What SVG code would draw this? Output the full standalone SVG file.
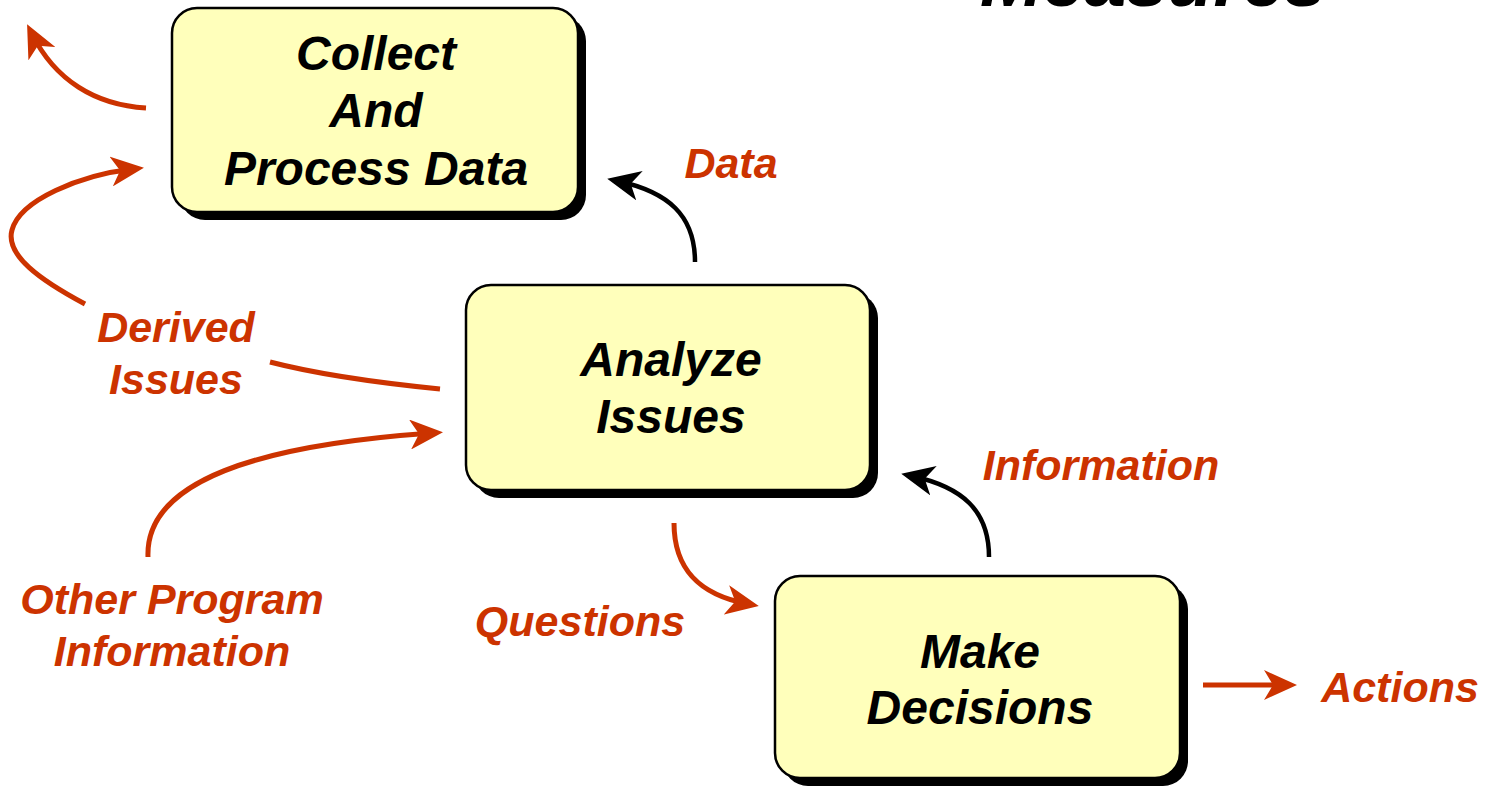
<svg xmlns="http://www.w3.org/2000/svg" width="1491" height="787" viewBox="0 0 1491 787">
<style>
.box{fill:#FFFFBB;stroke:#000;stroke-width:2.5}
.shadow{fill:#000}
.nt{font-family:"Liberation Sans",Arial,sans-serif;font-weight:bold;font-style:italic;font-size:48px;fill:#000;text-anchor:middle}
.lt{font-family:"Liberation Sans",Arial,sans-serif;font-weight:bold;font-style:italic;font-size:43px;fill:#CC3300;text-anchor:middle}
.title{font-family:"Liberation Sans",Arial,sans-serif;font-weight:bold;font-style:italic;font-size:75px;fill:#000}
.red{fill:none;stroke:#CC3300;stroke-width:5}
.blk{fill:none;stroke:#000;stroke-width:4.5}
</style>
<defs>
<marker id="ar" viewBox="0 0 33 30" markerUnits="userSpaceOnUse" markerWidth="33" markerHeight="30" refX="22" refY="15" orient="auto">
<path d="M0,0 L33,15 L0,30 L9,15 z" fill="#CC3300"/>
</marker>
<marker id="ab" viewBox="0 0 33 30" markerUnits="userSpaceOnUse" markerWidth="33" markerHeight="30" refX="22" refY="15" orient="auto">
<path d="M0,0 L33,15 L0,30 L9,15 z" fill="#000"/>
</marker>
</defs>
<rect width="1491" height="787" fill="#fff"/>
<text class="title" x="980" y="6">Measures</text>
<g id="collect">
<rect class="shadow" x="180" y="16" width="406" height="204" rx="25"/>
<rect class="box" x="172" y="8" width="406" height="204" rx="25"/>
<text class="nt" x="376" y="70">Collect</text>
<text class="nt" x="376" y="127">And</text>
<text class="nt" x="376" y="185">Process Data</text>
</g>
<g id="analyze">
<rect class="shadow" x="474" y="293" width="404" height="205" rx="25"/>
<rect class="box" x="466" y="285" width="404" height="205" rx="25"/>
<text class="nt" x="671" y="376">Analyze</text>
<text class="nt" x="671" y="433">Issues</text>
</g>
<g id="decide">
<rect class="shadow" x="783" y="584" width="405" height="202" rx="25"/>
<rect class="box" x="775" y="576" width="405" height="202" rx="25"/>
<text class="nt" x="980" y="668">Make</text>
<text class="nt" x="980" y="724">Decisions</text>
</g>
<g id="connectors">
<path class="red" d="M146,108 C95,105 55,80 32,34" marker-end="url(#ar)"/>
<path class="red" d="M440,389 C380,383 320,375 270,362"/>
<path class="red" d="M85,304 C40,280 5,255 12,230 C20,200 80,175 133,169" marker-end="url(#ar)"/>
<path class="red" d="M148,557 C145,480 260,445 432,433" marker-end="url(#ar)"/>
<path class="blk" d="M695,262 C695,215 668,192 618,181" marker-end="url(#ab)"/>
<path class="blk" d="M989,557 C989,510 962,487 912,476" marker-end="url(#ab)"/>
<path class="red" d="M674,523 C674,570 700,595 748,604" marker-end="url(#ar)"/>
<path class="red" d="M1203,685 L1286,685" marker-end="url(#ar)"/>
</g>
<g id="labels">
<text class="lt" x="731" y="178">Data</text>
<text class="lt" x="176" y="342">Derived</text>
<text class="lt" x="176" y="394">Issues</text>
<text class="lt" x="1101" y="480">Information</text>
<text class="lt" x="172" y="614">Other Program</text>
<text class="lt" x="172" y="666">Information</text>
<text class="lt" x="580" y="636">Questions</text>
<text class="lt" x="1400" y="702">Actions</text>
</g>
</svg>
